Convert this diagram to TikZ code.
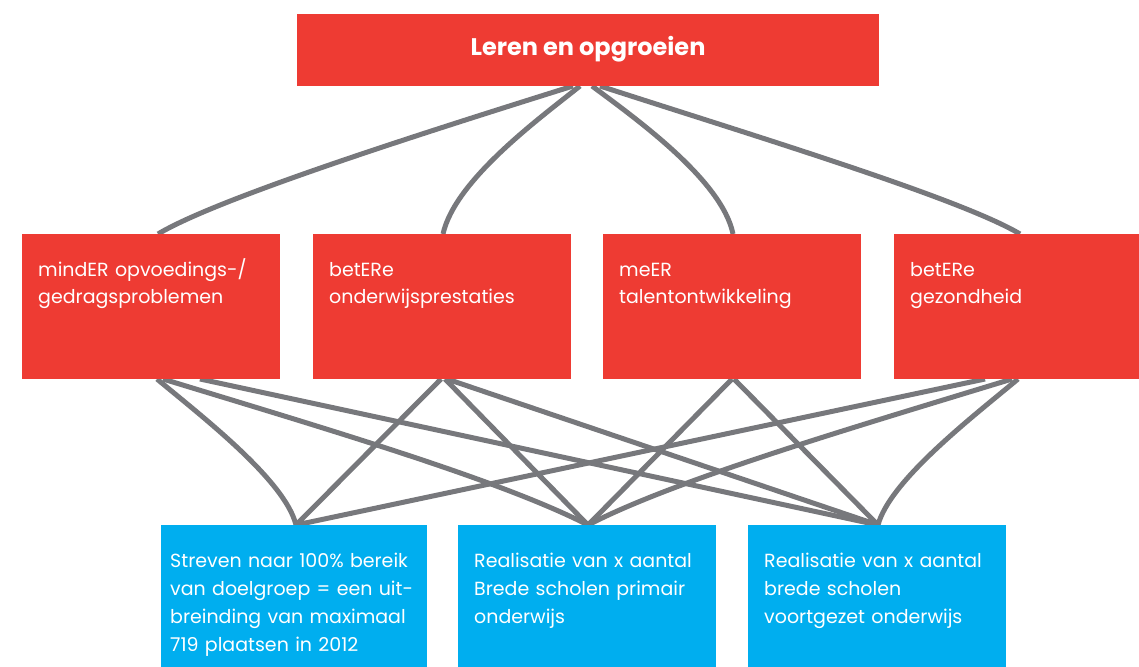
\documentclass[tikz,border=0pt]{standalone}
\usepackage{fontspec}
\setmainfont{Poppins}
\usetikzlibrary{calc,backgrounds}
\definecolor{boxred}{RGB}{238,59,51}
\definecolor{boxblue}{RGB}{0,174,239}
\definecolor{linkgray}{RGB}{119,120,124}
\begin{document}
\begin{tikzpicture}[x=1pt,y=-1pt,
  redbox/.style={fill=boxred, draw=none, minimum width=258pt, minimum height=145pt, inner sep=0pt, outer sep=0pt, anchor=north west},
  bluebox/.style={fill=boxblue, draw=none, minimum width=258pt, minimum height=160pt, inner sep=0pt, outer sep=0pt, anchor=north west},
  boxtext/.style={text=white, font=\fontsize{19}{27.5}\selectfont, text width=255pt, align=left, inner sep=0pt, anchor=base west},
  lowtext/.style={boxtext, font=\fontsize{19}{28.3}\selectfont},
  link/.style={draw=linkgray, line width=5pt}]
\useasboundingbox (0,0) rectangle (1139,666);

% top box
\node[fill=boxred, minimum width=582pt, minimum height=72pt, inner sep=0pt, outer sep=0pt, anchor=north west] (top) at (297,14) {};
\node[text=white, font=\bfseries\fontsize{24}{28}\selectfont, anchor=base, inner sep=0pt] (toptxt) at (588,56) {Leren en opgroeien};

% middle boxes
\node[redbox] (m1) at (22,234) {};
\node[redbox] (m2) at (313,234) {};
\node[redbox] (m3) at (603,234) {};
\node[redbox] (m4) at (894,234) {};
\node[boxtext] (t1) at ($(m1.north west)+(16,42)$) {mindER opvoedings-/\\gedragsproblemen};
\node[boxtext] (t2) at ($(m2.north west)+(16,42)$) {betERe\\onderwijsprestaties};
\node[boxtext] (t3) at ($(m3.north west)+(16,42)$) {meER\\talentontwikkeling};
\node[boxtext] (t4) at ($(m4.north west)+(16,42)$) {betERe\\gezondheid};

% bottom boxes
\node[bluebox, minimum width=266pt] (b1) at (161,525) {};
\node[bluebox] (b2) at (458,525) {};
\node[bluebox] (b3) at (748,525) {};
\node[lowtext] (u1) at ($(b1.north west)+(9,42)$) {Streven naar 100\% bereik\\van doelgroep = een uit-\\breinding van maximaal\\719 plaatsen in 2012};
\node[lowtext] (u2) at ($(b2.north west)+(16,42)$) {Realisatie van x aantal\\Brede scholen primair\\onderwijs};
\node[lowtext] (u3) at ($(b3.north west)+(16,42)$) {Realisatie van x aantal\\brede scholen\\voortgezet onderwijs};

\begin{pgfonlayer}{background}
% top to middle
\draw[link] ([xshift=-15pt]top.south) .. controls (423,133) and (218,198) .. ([xshift=7pt]m1.north);
\draw[link] ([xshift=-8pt]top.south) .. controls (540,118) and (455,180) .. ([xshift=1pt]m2.north);
\draw[link] ([xshift=4pt]top.south) .. controls (635,118) and (722,180) .. ([xshift=1pt]m3.north);
\draw[link] ([xshift=12pt]top.south) .. controls (745,133) and (960,198) .. ([xshift=-3pt]m4.north);
% middle to bottom
\draw[link] ([xshift=6pt]m1.south) .. controls (200,415) and (285,480) .. ([xshift=2pt]b1.north);
\draw[link] ([xshift=12pt]m1.south) .. controls (330,430) and (500,480) .. ([xshift=1pt]b2.north);
\draw[link] ([xshift=49pt]m1.south) -- ([xshift=1pt]b3.north);
\draw[link] ([xshift=-1pt]m2.south) -- ([xshift=2pt]b1.north);
\draw[link] ([xshift=3pt]m2.south) -- ([xshift=1pt]b2.north);
\draw[link] ([xshift=5pt]m2.south) -- ([xshift=1pt]b3.north);
\draw[link] (m3.south) -- ([xshift=1pt]b2.north);
\draw[link] ([xshift=2pt]m3.south) -- ([xshift=1pt]b3.north);
\draw[link] ([xshift=-38pt]m4.south) -- ([xshift=2pt]b1.north);
\draw[link] ([xshift=-11pt]m4.south) .. controls (845,430) and (675,480) .. ([xshift=1pt]b2.north);
\draw[link] ([xshift=-5pt]m4.south) .. controls (975,415) and (890,480) .. ([xshift=1pt]b3.north);
\end{pgfonlayer}
\end{tikzpicture}
\end{document}
